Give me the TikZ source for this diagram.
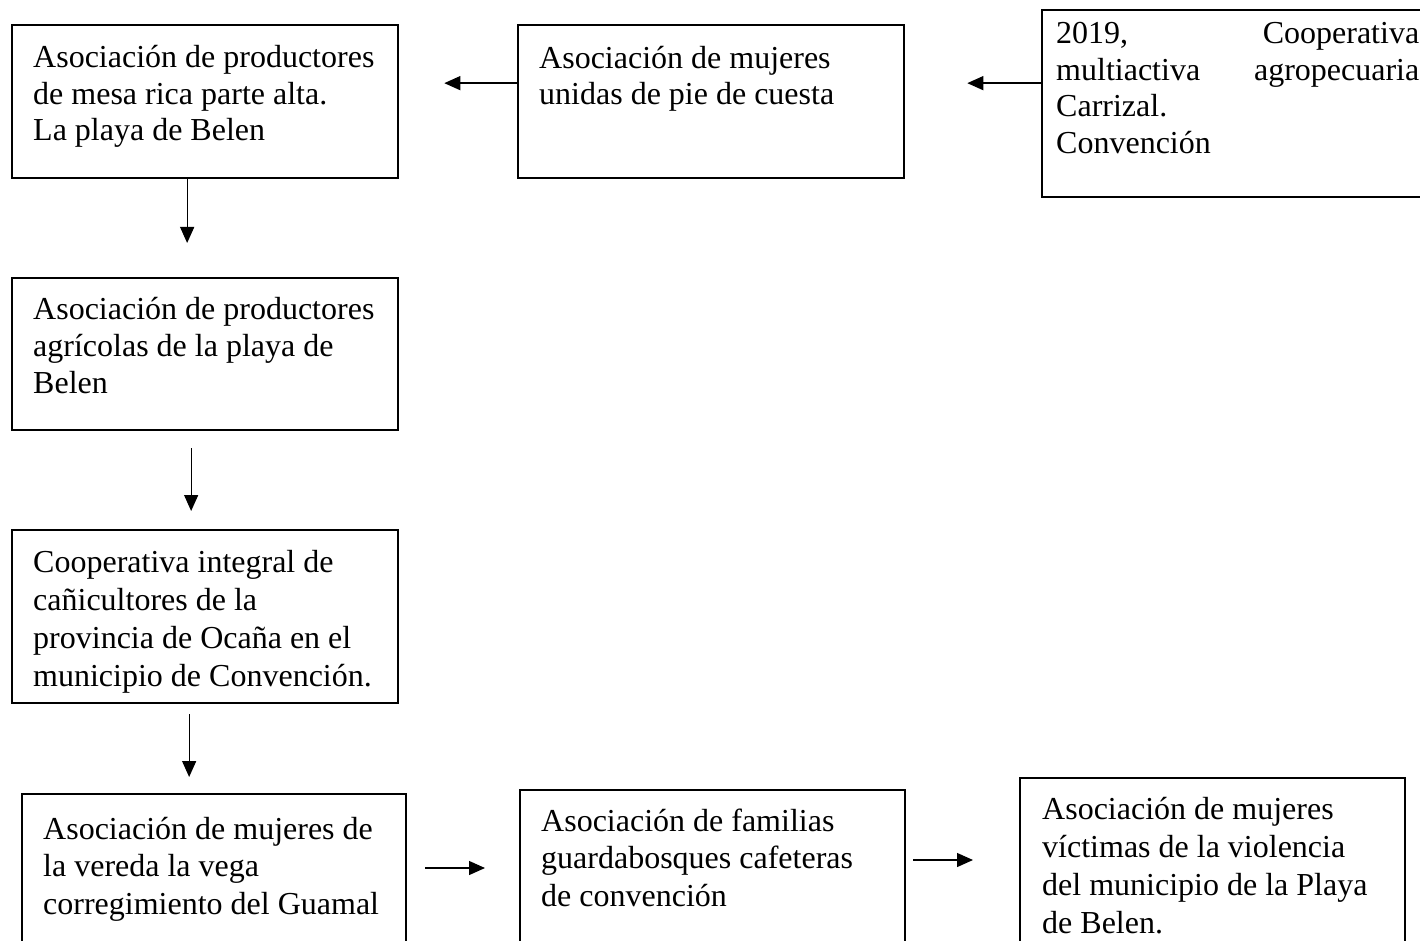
\documentclass[tikz,border=0pt]{standalone}
\usepackage{fontspec}
\setmainfont{Liberation Serif}
\usetikzlibrary{arrows.meta}
\newcommand{\boxtxt}[3]{\vtop{\hsize=#1pt\parindent=0pt\raggedright\fontsize{32}{#2}\selectfont #3\par}}
\tikzset{
  box/.style={draw=black, line width=2.3pt, anchor=north west, inner sep=0pt, fill=none},
  txt/.style={anchor=base west, inner sep=0pt},
  arr/.style={line width=1.3pt, -{Triangle[length=16pt,width=14pt]}},
}
\begin{document}
\begin{tikzpicture}[x=1pt,y=-1pt]
\clip (0,0) rectangle (1420,941);
\fill[white] (0,0) rectangle (1420,941);
% boxes
\node[box, minimum width=386pt, minimum height=153pt] (A) at (11,24) {};
\node[box, minimum width=386pt, minimum height=153pt] (B) at (517,24) {};
\node[box, minimum width=400pt, minimum height=187pt] (C) at (1041,9) {};
\node[box, minimum width=386pt, minimum height=152pt] (D) at (11,277) {};
\node[box, minimum width=386pt, minimum height=173pt] (E) at (11,529) {};
\node[box, minimum width=384pt, minimum height=170pt] (F) at (21,793) {};
\node[box, minimum width=385pt, minimum height=170pt] (G) at (519,789) {};
\node[box, minimum width=385pt, minimum height=180pt] (H) at (1019,777) {};
% texts
\node[txt] (tA) at (33,68) {\boxtxt{360}{36.5pt}{Asociación de productores\\ de mesa rica parte alta.\\ La playa de Belen}};
\node[txt] (tB) at (539,69) {\boxtxt{360}{35.5pt}{Asociación de mujeres\\ unidas de pie de cuesta}};
\node[txt] (tC) at (1056,44) {\boxtxt{363}{36.5pt}{2019,\hfill Cooperativa\\ multiactiva\hfill agropecuaria\\ Carrizal.\\ Convención}};
\node[txt] (tD) at (33,319) {\boxtxt{360}{37pt}{Asociación de productores\\ agrícolas de la playa de\\ Belen}};
\node[txt] (tE) at (33,572) {\boxtxt{360}{38.3pt}{Cooperativa integral de\\ cañicultores de la\\ provincia de Ocaña en el\\ municipio de Convención.}};
\node[txt] (tF) at (43,839) {\boxtxt{360}{37.5pt}{Asociación de mujeres de\\ la vereda la vega\\ corregimiento del Guamal}};
\node[txt] (tG) at (541,831) {\boxtxt{360}{37.5pt}{Asociación de familias\\ guardabosques cafeteras\\ de convención}};
\node[txt] (tH) at (1042,819) {\boxtxt{360}{38pt}{Asociación de mujeres\\ víctimas de la violencia\\ del municipio de la Playa\\ de Belen.}};
% connectors
\draw[arr, shorten >=45pt] ([yshift=18.5pt]B.west) -- ([yshift=18.5pt]B.west -| A.east);
\draw[arr, shorten >=62pt] ([yshift=20.5pt]C.west) -- ([yshift=20.5pt]C.west -| B.east);
\draw[arr, shorten >=34pt] ([xshift=-18pt]A.south) -- ([xshift=-18pt]D.north);
\draw[arr, shorten <=17pt, shorten >=18pt] ([xshift=-14pt]D.south) -- ([xshift=-14pt]D.south |- E.north);
\draw[arr, shorten <=10pt, shorten >=16pt] ([xshift=-16pt]E.south) -- ([xshift=-16pt]E.south |- F.north);
\coordinate (fg) at (F.east |- 0,868);
\draw[arr, shorten <=18pt, shorten >=34pt] (fg) -- (fg -| G.west);
\coordinate (gh) at (G.east |- 0,860);
\draw[arr, shorten <=7pt, shorten >=46pt] (gh) -- (gh -| H.west);
\end{tikzpicture}
\end{document}
